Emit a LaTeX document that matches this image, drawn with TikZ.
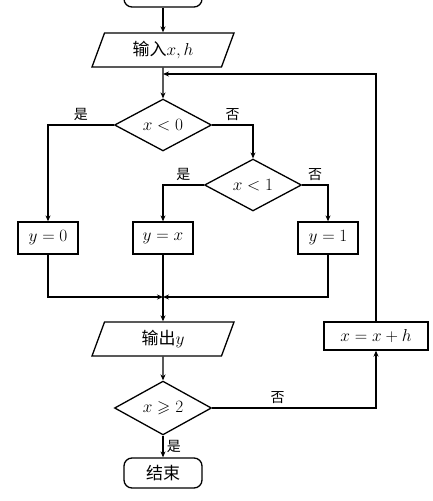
\documentclass[tikz,border=0pt]{standalone}
\usepackage{amssymb}
\usepackage{fontspec}
\newfontfamily\cjk{Noto Sans CJK SC}
\usetikzlibrary{shapes.geometric,arrows.meta}

\begin{document}
\begin{tikzpicture}
  [x=1pt,y=-1pt,line width=1.3pt,font=\fontsize{17}{20}\selectfont,
   >={Stealth[length=6pt,width=5pt]},
   box/.style={draw,minimum width=60pt,minimum height=32pt,inner sep=2pt},
   io/.style={draw,trapezium,trapezium left angle=60,trapezium right angle=120,
     trapezium stretches body,minimum width=142pt,minimum height=34pt,inner sep=2pt},
   test/.style={draw,diamond,minimum width=97pt,minimum height=46pt,inner sep=0pt},
   term/.style={draw,rounded corners=8pt,minimum width=78pt,minimum height=30pt},
   lbl/.style={font=\cjk\fontsize{14}{16}\selectfont}]
  \useasboundingbox (0,0) rectangle (432,501);
  \clip (0,0) rectangle (432,501);
  % nodes
  \node[term] (start) at (163,-8) {};
  \node[io] (inp) at (163,50) {\cjk 输入$x,h$};
  \node[test] (lt0) at (163,125) {$x<0$};
  \node[test] (lt1) at (253,185) {$x<1$};
  \node[box] (yzero) at (48,238) {$y=0$};
  \node[box] (yx) at (163,238) {$y=x$};
  \node[box] (yone) at (328,238) {$y=1$};
  \node[io] (outp) at (163,339) {\cjk 输出$y$};
  \node[test] (ge2) at (163,408) {$x\geqslant 2$};
  \node[box,minimum width=104pt,minimum height=28pt] (upd) at (376,336) {$x=x+h$};
  \node[term] (stop) at (163,473) {\cjk 结束};
  \coordinate (join) at (163,74);
  \coordinate (merge) at (163,297);
  % connectors
  \draw[->] (start) -- (inp);
  \draw[->] (inp) -- (lt0);
  \draw[->] (lt0.west) -| (yzero) node[lbl,pos=0.25,above] {是};
  \draw[->] (lt0.east) -| (lt1) node[lbl,pos=0.25,above] {否};
  \draw[->] (lt1.west) -| (yx) node[lbl,pos=0.25,above] {是};
  \draw[->] (lt1.east) -| (yone) node[lbl,pos=0.25,above] {否};
  \draw[->] (yzero) |- (merge);
  \draw[->] (yone) |- (merge);
  \draw (yx) -- (merge);
  \draw[->] (merge) -- (outp);
  \draw[->] (outp) -- (ge2);
  \draw[->] (ge2) -- (stop) node[lbl,midway,right] {是};
  \draw[->] (ge2.east) -| (upd) node[lbl,pos=0.2,above] {否};
  \draw[->] (upd) |- (join);
\end{tikzpicture}
\end{document}
